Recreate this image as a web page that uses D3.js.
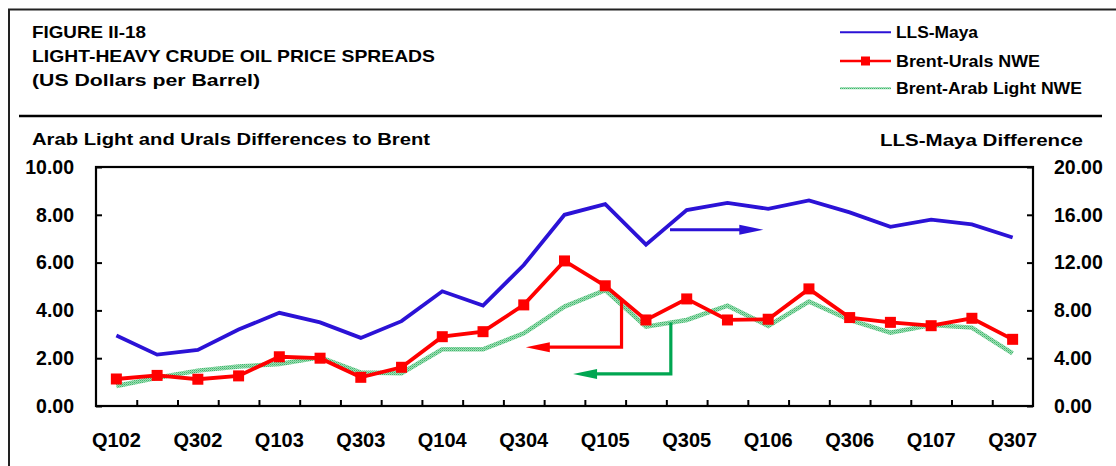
<!DOCTYPE html>
<html>
<head>
<meta charset="utf-8">
<script src="https://cdn.jsdelivr.net/npm/d3@7"></script>
<style>
  html, body { margin: 0; padding: 0; background: #fff; }
  svg { display: block; }
  text { font-family: "Liberation Sans", Arial, Helvetica, sans-serif; font-weight: bold; fill: #000; }
</style>
</head>
<body>
<svg id="chart" width="1116" height="466"></svg>
<script>
// Quarterly spreads, Q1 2002 – Q3 2007
const quarters = ["Q102","Q202","Q302","Q402","Q103","Q203","Q303","Q403",
                  "Q104","Q204","Q304","Q404","Q105","Q205","Q305","Q405",
                  "Q106","Q206","Q306","Q406","Q107","Q207","Q307"];
// LLS-Maya difference (right axis)
const llsMaya    = [5.9, 4.3, 4.7, 6.4, 7.8, 7.0, 5.7, 7.1, 9.6, 8.4, 11.8, 16.0,
                    16.9, 13.5, 16.4, 17.0, 16.5, 17.2, 16.2, 15.0, 15.6, 15.2, 14.1];
// Brent-Urals NWE (left axis)
const brentUrals = [1.13, 1.28, 1.12, 1.26, 2.06, 2.00, 1.20, 1.62, 2.90, 3.11, 4.23, 6.07,
                    5.03, 3.60, 4.48, 3.60, 3.63, 4.90, 3.70, 3.50, 3.36, 3.67, 2.79];
// Brent-Arab Light NWE (left axis)
const brentArab  = [0.84, 1.18, 1.48, 1.65, 1.76, 2.04, 1.40, 1.37, 2.37, 2.37, 3.04, 4.16,
                    4.85, 3.32, 3.60, 4.20, 3.35, 4.37, 3.60, 3.07, 3.39, 3.28, 2.20];

const leftTicks  = [0, 2, 4, 6, 8, 10];
const rightTicks = [0, 4, 8, 12, 16, 20];
const xLabels    = quarters.filter((q, i) => i % 2 === 0);

const titleLines = ["FIGURE II-18", "LIGHT-HEAVY CRUDE OIL PRICE SPREADS", "(US Dollars per Barrel)"];
const leftTitle  = "Arab Light and Urals Differences to Brent";
const rightTitle = "LLS-Maya Difference";
const seriesNames = ["LLS-Maya", "Brent-Urals NWE", "Brent-Arab Light NWE"];

// Pointer arrows: [category position, value] pairs, first point is the tail
const arrowMaya  = [[13.59, 14.75], [15.88, 14.75]];               // right axis
const arrowUrals = [[12.40, 4.50], [12.40, 2.46], [10.05, 2.46]];   // left axis
const arrowArab  = [[13.61, 3.49], [13.61, 1.34], [11.21, 1.34]];   // left axis

const colBlue  = "#2b12d6";
const colRed   = "#ff0000";
const colGreen = "#00a651";

const svg = d3.select("#chart");
const plot = { left: 96, right: 1033, top: 167, bottom: 406 };

// pattern giving the Arab Light line its grainy look
const defs = svg.append("defs");
const pat = defs.append("pattern").attr("id", "grain").attr("patternUnits", "userSpaceOnUse")
  .attr("width", 2).attr("height", 2);
pat.append("rect").attr("width", 2).attr("height", 2).attr("fill", "#9fdeb4");
pat.append("rect").attr("width", 1).attr("height", 1).attr("fill", "#3db66c");
pat.append("rect").attr("x", 1).attr("y", 1).attr("width", 1).attr("height", 1).attr("fill", "#6ccb90");

// outer frame and separator
svg.append("path").attr("d", "M9,466 V9.5 H1116").attr("fill", "none")
  .attr("stroke", "#222").attr("stroke-width", 2);
svg.append("line").attr("x1", 19).attr("x2", 1102).attr("y1", 116).attr("y2", 116)
  .attr("stroke", "#000").attr("stroke-width", 2.3);

// titles
const titleWidths = [114, 403, 228];
const titleBase = [38.3, 61.7, 85.5];
titleLines.forEach((t, i) => {
  svg.append("text").attr("x", 32).attr("y", titleBase[i]).attr("font-size", 17)
    .attr("textLength", titleWidths[i]).attr("lengthAdjust", "spacingAndGlyphs").text(t);
});
svg.append("text").attr("x", 32).attr("y", 145).attr("font-size", 17)
  .attr("textLength", 398).attr("lengthAdjust", "spacingAndGlyphs").text(leftTitle);
svg.append("text").attr("x", 880).attr("y", 146).attr("font-size", 17)
  .attr("textLength", 203).attr("lengthAdjust", "spacingAndGlyphs").text(rightTitle);

// scales
const xBand = d3.scaleBand().domain(quarters).range([plot.left, plot.right]).padding(0);
const xPos = d3.scaleLinear().domain([0, quarters.length]).range([plot.left, plot.right]);
const yL = d3.scaleLinear().domain([0, 10]).range([plot.bottom, plot.top]);
const yR = d3.scaleLinear().domain([0, 20]).range([plot.bottom, plot.top]);
const cx = i => xPos(i + 0.5);

// axes
const fmt = d3.format(".2f");
const gL = svg.append("g").attr("transform", `translate(${plot.left},0)`)
  .call(d3.axisLeft(yL).tickValues(leftTicks).tickFormat(fmt).tickSize(-6).tickSizeOuter(0).tickPadding(22));
const gR = svg.append("g").attr("transform", `translate(${plot.right},0)`)
  .call(d3.axisRight(yR).tickValues(rightTicks).tickFormat(fmt).tickSize(-6).tickSizeOuter(0).tickPadding(21));
const gT = svg.append("g").attr("transform", `translate(0,${plot.bottom})`)
  .call(d3.axisBottom(xPos).tickValues(d3.range(1, quarters.length)).tickFormat("").tickSize(-6).tickSizeOuter(0));
const gX = svg.append("g").attr("transform", `translate(0,${plot.bottom})`)
  .call(d3.axisBottom(xBand).tickValues(xLabels).tickSize(0).tickPadding(26.8));

[gL, gR, gT, gX].forEach(g => {
  g.select(".domain").remove();
  g.selectAll(".tick line").attr("stroke", "#000").attr("stroke-width", 2);
  g.selectAll("text").attr("font-family", null).attr("fill", "#000");
  g.attr("font-size", null).attr("font-family", null);
});
gL.selectAll("text").attr("font-size", 19.5);
gR.selectAll("text").attr("font-size", 19.5);
gX.selectAll("text").attr("font-size", 20);

// plot frame
svg.append("rect").attr("x", plot.left).attr("y", plot.top)
  .attr("width", plot.right - plot.left).attr("height", plot.bottom - plot.top)
  .attr("fill", "none").attr("stroke", "#000").attr("stroke-width", 2.2);

// series lines
const lineL = d3.line().x((d, i) => cx(i)).y(d => yL(d));
const lineR = d3.line().x((d, i) => cx(i)).y(d => yR(d));

svg.append("path").datum(brentArab).attr("d", lineL).attr("fill", "none")
  .attr("stroke", "url(#grain)").attr("stroke-width", 4.5).attr("stroke-linejoin", "miter");
svg.append("path").datum(llsMaya).attr("d", lineR).attr("fill", "none")
  .attr("stroke", colBlue).attr("stroke-width", 3.8);
svg.append("path").datum(brentUrals).attr("d", lineL).attr("fill", "none")
  .attr("stroke", colRed).attr("stroke-width", 3.8);
svg.append("g").selectAll("rect").data(brentUrals).join("rect")
  .attr("x", (d, i) => cx(i) - 5.5).attr("y", d => yL(d) - 5.5)
  .attr("width", 11).attr("height", 11).attr("fill", colRed);

// pointer arrows
function drawArrow(pts, yScale, color) {
  const p = pts.map(([c, v]) => [cx(c), yScale(v)]);
  const n = p.length;
  const [tx, ty] = p[n - 1];
  const [px, py] = p[n - 2];
  const ang = Math.atan2(ty - py, tx - px);
  const headLen = 24, headHalf = 5;
  const bx = tx - headLen * Math.cos(ang), by = ty - headLen * Math.sin(ang);
  const shaft = p.slice(0, n - 1).concat([[bx + 2 * Math.cos(ang), by + 2 * Math.sin(ang)]]);
  svg.append("path").attr("d", d3.line()(shaft)).attr("fill", "none")
    .attr("stroke", color).attr("stroke-width", 3.2);
  const nx = -Math.sin(ang), ny = Math.cos(ang);
  svg.append("path")
    .attr("d", `M${tx},${ty} L${bx + nx * headHalf},${by + ny * headHalf} L${bx - nx * headHalf},${by - ny * headHalf} Z`)
    .attr("fill", color);
}
drawArrow(arrowMaya, yR, colBlue);
drawArrow(arrowUrals, yL, colRed);
drawArrow(arrowArab, yL, colGreen);

// legend
const legendRows = [32.3, 61, 88.3];
const legendWidths = [82, 144, 186];
const lg = svg.append("g");
lg.append("line").attr("x1", 840).attr("x2", 891).attr("y1", legendRows[0]).attr("y2", legendRows[0])
  .attr("stroke", colBlue).attr("stroke-width", 2);
lg.append("line").attr("x1", 840).attr("x2", 891).attr("y1", legendRows[1]).attr("y2", legendRows[1])
  .attr("stroke", colRed).attr("stroke-width", 2.5);
lg.append("rect").attr("x", 861).attr("y", legendRows[1] - 4.5).attr("width", 9).attr("height", 9)
  .attr("fill", colRed);
lg.append("line").attr("x1", 840).attr("x2", 891).attr("y1", legendRows[2]).attr("y2", legendRows[2])
  .attr("stroke", "url(#grain)").attr("stroke-width", 2);
seriesNames.forEach((name, i) => {
  lg.append("text").attr("x", 896).attr("y", legendRows[i] + 6).attr("font-size", 16)
    .attr("textLength", legendWidths[i]).attr("lengthAdjust", "spacingAndGlyphs").text(name);
});
</script>
</body>
</html>
